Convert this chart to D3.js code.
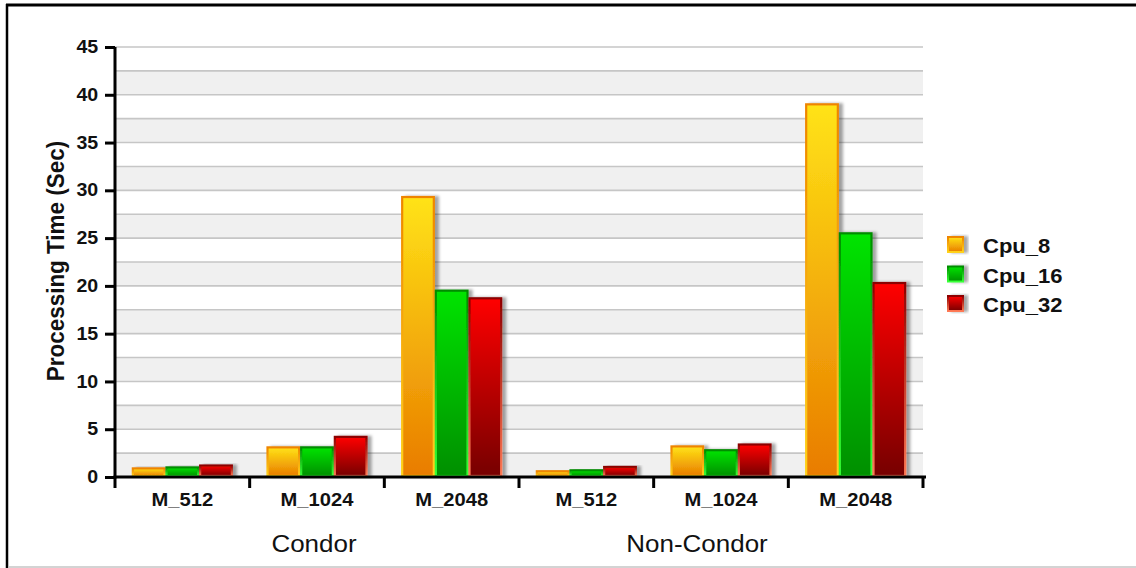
<!DOCTYPE html>
<html>
<head>
<meta charset="utf-8">
<script src="https://cdn.jsdelivr.net/npm/d3@7"></script>
<style>
  body { margin: 0; background: #fff; }
  text { font-family: "Liberation Sans", Arial, sans-serif; fill: #111; }
</style>
</head>
<body>
<svg width="1136" height="568"></svg>
<script>
// chart data
var groups = ["Condor", "Non-Condor"];
var sizes = ["M_512", "M_1024", "M_2048"];
var series = ["Cpu_8", "Cpu_16", "Cpu_32"];
var cpu8  = [0.9, 3.1, 29.3, 0.6, 3.2, 39.0];
var cpu16 = [1.0, 3.1, 19.5, 0.7, 2.8, 25.5];
var cpu32 = [1.2, 4.2, 18.7, 1.05, 3.4, 20.3];
var yTicks = [0, 5, 10, 15, 20, 25, 30, 35, 40, 45];

// colours: [fill top, fill bottom, stroke top, stroke bottom]
var colors = {
  "Cpu_8":  ["#ffe316", "#e97c00", "#ee8400", "#ffd21a"],
  "Cpu_16": ["#00e400", "#008f00", "#008c00", "#35ff35"],
  "Cpu_32": ["#ff0000", "#760000", "#8c0000", "#ff7a55"]
};

// build rows: one per group/size
var cats = [];
groups.forEach(function(g) {
  sizes.forEach(function(s) { cats.push(g + "|" + s); });
});
var rows = cats.map(function(c, i) {
  return { key: c, group: c.split("|")[0], size: c.split("|")[1],
           values: [cpu8[i], cpu16[i], cpu32[i]] };
});

var svg = d3.select("svg"),
    margin = {top: 47, right: 213, bottom: 91, left: 115},
    width = 1136 - margin.left - margin.right,
    height = 568 - margin.top - margin.bottom;

// frame around the picture
svg.append("line").attr("x1", 6).attr("x2", 1136).attr("y1", 5).attr("y2", 5)
  .attr("stroke", "#000").attr("stroke-width", 3);
svg.append("line").attr("x1", 7).attr("x2", 7).attr("y1", 4).attr("y2", 568)
  .attr("stroke", "#000").attr("stroke-width", 2.5);
svg.append("line").attr("x1", 8).attr("x2", 1136).attr("y1", 567).attr("y2", 567)
  .attr("stroke", "#c4c4c4").attr("stroke-width", 1.5);

var defs = svg.append("defs");
series.forEach(function(s, i) {
  var c = colors[s];
  var f = defs.append("linearGradient").attr("id", "fill" + i)
    .attr("x1", 0).attr("y1", 0).attr("x2", 0).attr("y2", 1);
  f.append("stop").attr("offset", "0%").attr("stop-color", c[0]);
  f.append("stop").attr("offset", "100%").attr("stop-color", c[1]);
  var st = defs.append("linearGradient").attr("id", "stroke" + i)
    .attr("x1", 0).attr("y1", 0).attr("x2", 0).attr("y2", 1);
  st.append("stop").attr("offset", "0%").attr("stop-color", c[2]);
  st.append("stop").attr("offset", "100%").attr("stop-color", c[3]);
});
var sh = defs.append("filter").attr("id", "shadow")
  .attr("x", "-20%").attr("y", "-20%").attr("width", "160%").attr("height", "140%");
sh.append("feDropShadow").attr("dx", 4).attr("dy", 0).attr("stdDeviation", 1.6)
  .attr("flood-color", "#000").attr("flood-opacity", 0.35);

var x0 = d3.scaleBand().domain(cats).range([0, width]).padding(0),
    x1 = d3.scaleBand().domain(series).range([0, x0.bandwidth()]).paddingInner(0).paddingOuter(0.5),
    y = d3.scaleLinear().domain([0, 45]).range([height, 0]);

var g = svg.append("g")
    .attr("transform", "translate(" + margin.left + "," + margin.top + ")");

// alternating bands and grid lines every 2.5
var half = d3.range(0, 45, 2.5);
g.selectAll(".band")
  .data(half.filter(function(v, i) { return i % 2 === 0; }))
  .enter().append("rect")
    .attr("x", 0).attr("width", width)
    .attr("y", function(d) { return y(d + 2.5); })
    .attr("height", function(d) { return y(d) - y(d + 2.5); })
    .attr("fill", "#f0f0f0");
g.selectAll(".grid")
  .data(d3.range(2.5, 45.1, 2.5))
  .enter().append("line")
    .attr("x1", 0).attr("x2", width)
    .attr("y1", function(d) { return y(d); })
    .attr("y2", function(d) { return y(d); })
    .attr("stroke", "#c6c6c6").attr("stroke-width", 1.6);

// bars
var cat = g.selectAll(".cat")
  .data(rows)
  .enter().append("g")
    .attr("transform", function(d) { return "translate(" + x0(d.key) + ",0)"; });
cat.selectAll("rect")
  .data(function(d) { return d.values.map(function(v, i) { return {s: series[i], i: i, v: v}; }); })
  .enter().append("rect")
    .attr("x", function(d) { return x1(d.s) + 1; })
    .attr("width", x1.bandwidth() - 2)
    .attr("y", function(d) { return y(d.v); })
    .attr("height", function(d) { return y(0) - y(d.v) - 1; })
    .attr("fill", function(d) { return "url(#fill" + d.i + ")"; })
    .attr("stroke", function(d) { return "url(#stroke" + d.i + ")"; })
    .attr("stroke-width", 2.2)
    .attr("filter", "url(#shadow)");

// y axis
var yAxis = g.append("g")
    .call(d3.axisLeft(y).tickValues(yTicks).tickSize(10).tickSizeOuter(0).tickPadding(5));
yAxis.select(".domain").attr("stroke-width", 3).attr("d", "M0," + (height + 1.5) + "V0");
yAxis.selectAll(".tick line").attr("stroke-width", 3);
yAxis.selectAll(".tick text")
    .attr("font-size", 17.5).attr("font-weight", "bold")
    .attr("transform", "scale(1.12,1)");

// y title
g.append("text")
    .attr("transform", "translate(-51," + (height / 2 - 1) + ") rotate(-90) scale(1.07,1.1)")
    .attr("text-anchor", "middle")
    .attr("font-size", 21).attr("font-weight", "bold")
    .text("Processing Time (Sec)");

// x axis
var xAxis = g.append("g")
    .attr("transform", "translate(0," + height + ")")
    .call(d3.axisBottom(x0).tickSize(0).tickPadding(0).tickFormat(function(d) { return d.split("|")[1]; }));
xAxis.select(".domain").attr("stroke-width", 3).attr("d", "M-1.5,0H" + (width + 3));
xAxis.selectAll(".tick text")
    .attr("font-size", 18).attr("font-weight", "bold")
    .attr("y", 29).attr("dy", 0)
    .attr("transform", "scale(1.12,1)");
xAxis.selectAll(".edge")
  .data(cats.map(function(c) { return x0(c); }).concat([width]))
  .enter().append("line")
    .attr("x1", function(d) { return d; }).attr("x2", function(d) { return d; })
    .attr("y1", 0).attr("y2", 11)
    .attr("stroke", "#000").attr("stroke-width", 3);

// group labels under the middle size
var shift = [-3, -24];
groups.forEach(function(gr, i) {
  var key = gr + "|" + sizes[1];
  g.append("text")
    .attr("transform", "translate(" + (x0(key) + x0.bandwidth() / 2 + shift[i]) + "," + (height + 75) + ") scale(1.13,1)")
    .attr("text-anchor", "middle")
    .attr("font-size", 23)
    .text(gr);
});

// legend
var legend = svg.append("g").attr("transform", "translate(947,236)");
var item = legend.selectAll(".item")
  .data(series)
  .enter().append("g")
    .attr("transform", function(d, i) { return "translate(0," + (i * 29.5) + ")"; });
item.append("rect")
    .attr("x", 1).attr("y", 1).attr("width", 15).attr("height", 15)
    .attr("fill", function(d, i) { return "url(#fill" + i + ")"; })
    .attr("stroke", function(d, i) { return "url(#stroke" + i + ")"; })
    .attr("stroke-width", 2)
    .attr("filter", "url(#shadow)");
item.append("text")
    .attr("transform", "translate(36,17) scale(1.1,1)")
    .attr("font-size", 20).attr("font-weight", "bold")
    .text(function(d) { return d; });
</script>
</body>
</html>
